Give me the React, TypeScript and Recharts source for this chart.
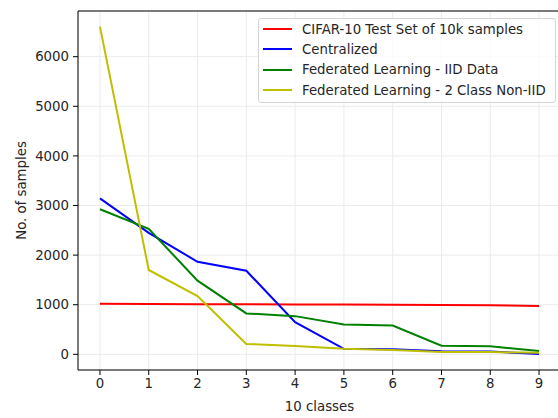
import {
  LineChart,
  Line,
  XAxis,
  YAxis,
  CartesianGrid,
  Legend,
  ReferenceLine,
} from 'recharts'

const classes = [0, 1, 2, 3, 4, 5, 6, 7, 8, 9]
const testSet = [1020, 1015, 1010, 1008, 1005, 1003, 1000, 995, 990, 975]
const centralized = [3145, 2450, 1865, 1685, 650, 110, 100, 60, 58, 5]
const fedIid = [2925, 2530, 1485, 825, 770, 600, 580, 175, 165, 65]
const fedNonIid = [6605, 1700, 1175, 210, 170, 110, 85, 45, 45, 30]

const xTicks = [0, 1, 2, 3, 4, 5, 6, 7, 8, 9]
const yTicks = [0, 1000, 2000, 3000, 4000, 5000, 6000]

const series = [
  { key: 'test', name: 'CIFAR-10 Test Set of 10k samples', color: '#ff0000' },
  { key: 'central', name: 'Centralized', color: '#0000ff' },
  { key: 'iid', name: 'Federated Learning - IID Data', color: '#008000' },
  { key: 'noniid', name: 'Federated Learning - 2 Class Non-IID', color: '#bfbf00' },
]

const data = classes.map((c, i) => ({
  cls: c,
  test: testSet[i],
  central: centralized[i],
  iid: fedIid[i],
  noniid: fedNonIid[i],
}))

const FONT = '"DejaVu Sans", sans-serif'
const X_DOMAIN: [number, number] = [-0.45, 9.45]
const Y_DOMAIN: [number, number] = [-316, 6921]

const LegendBox = () => (
  <div
    style={{
      width: 296,
      border: '1px solid #d4d4d4',
      borderRadius: 3,
      background: 'rgba(255,255,255,0.8)',
      paddingBottom: 2,
      fontFamily: FONT,
      fontSize: 13.3,
      color: '#262626',
    }}
  >
    {series.map((s) => (
      <div key={s.key} style={{ height: 20.3, display: 'flex', alignItems: 'center' }}>
        <span
          style={{
            display: 'inline-block',
            marginLeft: 4,
            width: 29,
            height: 2,
            background: s.color,
          }}
        />
        <span style={{ marginLeft: 10, whiteSpace: 'nowrap' }}>{s.name}</span>
      </div>
    ))}
  </div>
)

export default function App() {
  const tick = { fill: '#262626', fontSize: 13.3, fontFamily: FONT }
  return (
    <div style={{ position: 'fixed', left: 0, top: 0, width: 558, height: 418, overflow: 'hidden', background: '#fff' }}>
      <LineChart
        width={570}
        height={418}
        data={data}
        margin={{ top: 11, right: 9, left: 0, bottom: 0 }}
      >
        <CartesianGrid stroke="#ebebeb" strokeWidth={1} />
        <XAxis
          dataKey="cls"
          type="number"
          domain={X_DOMAIN}
          ticks={xTicks}
          height={48}
          tick={tick}
          tickSize={5}
          tickMargin={4}
          stroke="#000"
          allowDataOverflow
          label={{
            value: '10 classes',
            position: 'insideBottom',
            offset: 7,
            fill: '#262626',
            fontSize: 13.3,
            fontFamily: FONT,
          }}
        />
        <YAxis
          type="number"
          domain={Y_DOMAIN}
          ticks={yTicks}
          width={78}
          tick={tick}
          tickSize={5}
          tickMargin={4}
          stroke="#000"
          allowDataOverflow
          label={{
            value: 'No. of samples',
            angle: -90,
            position: 'insideLeft',
            offset: 21,
            fill: '#262626',
            fontSize: 13.3,
            fontFamily: FONT,
            style: { textAnchor: 'middle' },
          }}
        />
        <ReferenceLine y={Y_DOMAIN[1]} stroke="#000" />
        <ReferenceLine x={X_DOMAIN[1]} stroke="#000" />
        {series.map((s) => (
          <Line
            key={s.key}
            type="linear"
            dataKey={s.key}
            name={s.name}
            stroke={s.color}
            strokeWidth={2}
            dot={false}
            isAnimationActive={false}
          />
        ))}
        <Legend
          layout="vertical"
          align="center"
          verticalAlign="middle"
          content={() => <LegendBox />}
          wrapperStyle={{ top: 18, left: 258, width: 298 }}
        />
      </LineChart>
    </div>
  )
}
